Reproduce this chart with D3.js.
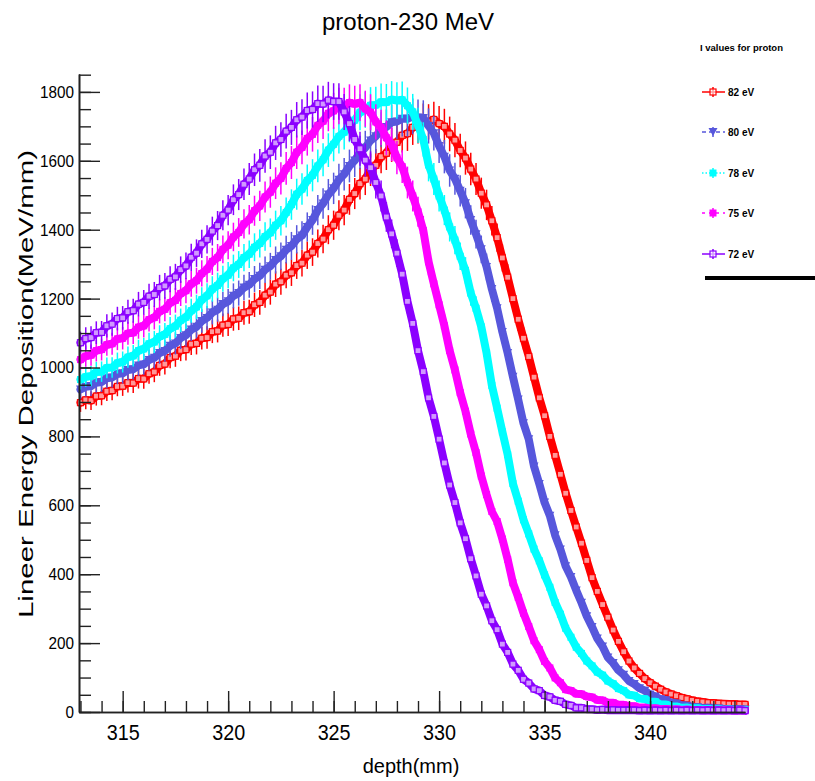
<!DOCTYPE html>
<html>
<head>
<meta charset="utf-8">
<script src="https://cdn.jsdelivr.net/npm/d3@7"></script>
<style>
  body { margin: 0; background: #ffffff; }
  svg { display: block; }
  text { font-family: "Liberation Sans", Arial, Helvetica, sans-serif; fill: #000; }
</style>
</head>
<body>
<svg id="chart" width="815" height="781"></svg>
<script>
// Depth bins (mm), 0.25 mm wide, centred from 313.00 to 344.50
const depth = d3.range(127).map(i => 313 + 0.25 * i);

// Energy deposition per bin (MeV/mm) for each mean excitation energy
const dose82 = [
  898, 906, 904, 917, 918, 931, 933, 945,
  946, 956, 955, 968, 967, 982, 987, 1006,
  1010, 1029, 1033, 1050, 1052, 1068, 1070, 1085,
  1087, 1104, 1106, 1123, 1125, 1141, 1143, 1159,
  1162, 1182, 1189, 1210, 1219, 1242, 1249, 1268,
  1275, 1296, 1303, 1326, 1335, 1360, 1373, 1400,
  1413, 1442, 1457, 1488, 1505, 1534, 1547, 1574,
  1587, 1612, 1622, 1646, 1654, 1674, 1679, 1697,
  1701, 1715, 1713, 1720, 1708, 1700, 1678, 1660,
  1630, 1608, 1576, 1547, 1506, 1472, 1426, 1377,
  1318, 1262, 1200, 1140, 1085, 1032, 972, 912,
  860, 800, 745, 690, 635, 585, 537, 490,
  440, 390, 350, 312, 275, 238, 205, 175,
  148, 128, 112, 97, 85, 75, 66, 58,
  52, 47, 42, 38, 34, 31, 29, 27,
  26, 25, 24, 23, 23, 22, 22
];
const dose80 = [
  936, 944, 946, 956, 958, 969, 971, 981,
  983, 993, 995, 1006, 1009, 1022, 1028, 1042,
  1048, 1063, 1070, 1086, 1094, 1110, 1118, 1135,
  1144, 1160, 1168, 1184, 1192, 1208, 1216, 1232,
  1240, 1257, 1266, 1284, 1294, 1312, 1323, 1342,
  1353, 1372, 1383, 1408, 1428, 1457, 1476, 1502,
  1520, 1545, 1561, 1585, 1601, 1624, 1638, 1659,
  1671, 1690, 1698, 1712, 1714, 1722, 1722, 1729,
  1726, 1724, 1701, 1680, 1643, 1612, 1572, 1548,
  1513, 1477, 1428, 1387, 1343, 1292, 1228, 1172,
  1103, 1042, 973, 907, 838, 792, 713, 662,
  608, 570, 513, 472, 423, 392, 353, 317,
  278, 247, 213, 190, 158, 142, 121, 108,
  90, 81, 69, 62, 51, 45, 37, 34,
  27, 25, 19, 18, 14, 14, 11, 12,
  10, 10, 9, 9, 8, 8, 7
];
const dose78 = [
  965, 973, 975, 987, 988, 999, 1000, 1013,
  1016, 1030, 1034, 1049, 1054, 1069, 1074, 1090,
  1096, 1113, 1120, 1137, 1146, 1165, 1176, 1197,
  1208, 1228, 1238, 1258, 1268, 1289, 1299, 1319,
  1329, 1349, 1360, 1380, 1391, 1413, 1426, 1450,
  1473, 1503, 1518, 1543, 1558, 1585, 1603, 1631,
  1648, 1671, 1683, 1705, 1718, 1741, 1748, 1761,
  1762, 1771, 1770, 1778, 1775, 1777, 1760, 1742,
  1703, 1662, 1588, 1547, 1498, 1457, 1408, 1370,
  1323, 1282, 1216, 1172, 1118, 1042, 948, 882,
  813, 747, 663, 612, 558, 517, 473, 439,
  398, 362, 318, 284, 243, 217, 188, 170,
  148, 134, 116, 107, 90, 82, 68, 62,
  50, 48, 39, 38, 30, 30, 22, 22,
  16, 16, 12, 13, 10, 11, 8, 9,
  7, 8, 6, 7, 6, 6, 6
];
const dose75 = [
  1023, 1033, 1036, 1049, 1052, 1066, 1069, 1083,
  1085, 1099, 1101, 1117, 1121, 1139, 1145, 1163,
  1169, 1188, 1195, 1215, 1223, 1243, 1252, 1273,
  1285, 1308, 1319, 1343, 1355, 1379, 1392, 1417,
  1429, 1455, 1469, 1495, 1509, 1535, 1549, 1578,
  1595, 1625, 1639, 1665, 1677, 1703, 1715, 1738,
  1745, 1759, 1759, 1769, 1765, 1769, 1751, 1741,
  1713, 1697, 1667, 1648, 1609, 1583, 1537, 1498,
  1452, 1398, 1307, 1243, 1182, 1121, 1049, 993,
  927, 873, 807, 753, 685, 631, 582, 553,
  502, 443, 375, 333, 287, 248, 207, 181,
  147, 128, 99, 85, 65, 62, 53, 52,
  45, 43, 35, 34, 27, 27, 21, 21,
  17, 17, 13, 13, 10, 11, 8, 9,
  7, 8, 6, 7, 6, 6, 5, 6,
  5, 5, 5, 5, 4, 5, 4
];
const dose72 = [
  1072, 1084, 1087, 1101, 1102, 1121, 1126, 1142,
  1144, 1162, 1165, 1184, 1189, 1207, 1212, 1232,
  1237, 1256, 1263, 1284, 1295, 1320, 1332, 1359,
  1372, 1396, 1412, 1442, 1457, 1487, 1502, 1532,
  1547, 1574, 1587, 1614, 1625, 1652, 1662, 1686,
  1697, 1719, 1727, 1746, 1749, 1766, 1765, 1776,
  1772, 1772, 1742, 1708, 1662, 1635, 1602, 1580,
  1537, 1498, 1437, 1388, 1332, 1271, 1192, 1128,
  1049, 988, 912, 858, 792, 723, 659, 608,
  549, 503, 445, 395, 342, 308, 265, 239,
  197, 173, 139, 121, 95, 84, 67, 62,
  48, 44, 34, 31, 22, 19, 12, 12,
  8, 8, 6, 7, 5, 6, 5, 5,
  5, 5, 4, 5, 4, 5, 4, 5,
  4, 5, 4, 5, 4, 5, 4, 5,
  4, 5, 4, 5, 4, 5, 4
];

const seriesLabels = ["82 eV", "80 eV", "78 eV", "75 eV", "72 eV"];
const seriesValues = [dose82, dose80, dose78, dose75, dose72];
const xTickValues = [315, 320, 325, 330, 335, 340];
const yTickValues = [0, 200, 400, 600, 800, 1000, 1200, 1400, 1600, 1800];
const relativeError = 0.03;   // statistical error per bin
const binHalfWidth = 0.125;   // mm

// Styles per series: colour, marker, line dash (legend)
const styles = [
  { color: "#ff0000", marker: "openSquare", dash: null },
  { color: "#5757dc", marker: "triangleDown", dash: "4,3" },
  { color: "#00ffff", marker: "square", dash: "1.5,2" },
  { color: "#ff00ff", marker: "square", dash: "3,4" },
  { color: "#8b00ff", marker: "openSquare", dash: null }
];

const svg = d3.select("#chart");

const x = d3.scaleLinear().domain([312.93, 344.5]).range([79, 745]);
const y = d3.scaleLinear().domain([0, 1852]).range([712, 74]);

function drawMarker(g, kind, color, cx, cy) {
  if (kind === "openSquare") {
    g.append("rect").attr("x", cx - 3).attr("y", cy - 3).attr("width", 6).attr("height", 6)
      .attr("fill", "#fff").attr("fill-opacity", 0.6)
      .attr("stroke", color).attr("stroke-width", 1.2);
  } else if (kind === "square") {
    g.append("rect").attr("x", cx - 3.5).attr("y", cy - 3.5).attr("width", 7).attr("height", 7)
      .attr("fill", color);
  } else if (kind === "triangleDown") {
    g.append("path").attr("d", `M${cx - 4.5},${cy - 4}L${cx + 4.5},${cy - 4}L${cx},${cy + 4}Z`)
      .attr("fill", color);
  }
}

// ---- data: connecting band, error bars, markers ----
const line = d3.line().x((v, i) => x(depth[i])).y(v => y(v));
const plot = svg.append("g").attr("class", "series");
seriesValues.forEach((vals, si) => {
  const st = styles[si];
  const g = plot.append("g");
  g.append("path").datum(vals).attr("d", line)
    .attr("fill", "none").attr("stroke", st.color).attr("stroke-width", 8)
    .attr("stroke-linejoin", "round").attr("stroke-linecap", "round");
  vals.forEach((v, i) => {
    const d = depth[i];
    const err = v * relativeError;
    g.append("line")
      .attr("x1", x(d - binHalfWidth)).attr("x2", x(d + binHalfWidth))
      .attr("y1", y(v)).attr("y2", y(v))
      .attr("stroke", st.color).attr("stroke-width", 1);
    g.append("line")
      .attr("x1", x(d)).attr("x2", x(d))
      .attr("y1", y(v - err)).attr("y2", y(v + err))
      .attr("stroke", st.color).attr("stroke-width", 1.5);
  });
  vals.forEach((v, i) => drawMarker(g, st.marker, st.color, x(depth[i]), y(v)));
});

// ---- axes ----
const axisColor = "#222";
const yMinor = svg.append("g").attr("transform", "translate(79,0)")
  .call(d3.axisLeft(y).tickValues(d3.range(0, 1851, 50)).tickSize(-12).tickSizeOuter(0).tickFormat(""));
const yMajor = svg.append("g").attr("transform", "translate(79,0)")
  .call(d3.axisLeft(y).tickValues(yTickValues).tickSize(-21).tickSizeOuter(0).tickPadding(5)
    .tickFormat(d3.format("d")));
const xMinor = svg.append("g").attr("transform", "translate(0,712)")
  .call(d3.axisBottom(x).tickValues(d3.range(313, 344.5, 1)).tickSize(-11).tickSizeOuter(0).tickFormat(""));
const xMajor = svg.append("g").attr("transform", "translate(0,712)")
  .call(d3.axisBottom(x).tickValues(xTickValues).tickSize(-21).tickSizeOuter(0).tickPadding(12)
    .tickFormat(d3.format("d")));

[yMinor, yMajor, xMinor, xMajor].forEach(a => {
  a.selectAll("path.domain").attr("stroke", axisColor).attr("stroke-width", 1.6);
  a.selectAll(".tick line").attr("stroke", axisColor).attr("stroke-width", 1.4);
});
yMajor.selectAll(".tick text")
  .attr("font-size", 17).attr("fill", "#111")
  .attr("font-family", "'Liberation Sans', Arial, sans-serif")
  .each(function (d) {
    const n = String(d).length;
    d3.select(this).attr("textLength", n * 8.5).attr("lengthAdjust", "spacingAndGlyphs");
  });
xMajor.selectAll(".tick text")
  .attr("font-size", 22).attr("fill", "#111")
  .attr("font-family", "'Liberation Sans', Arial, sans-serif")
  .attr("textLength", 33).attr("lengthAdjust", "spacingAndGlyphs");

// ---- titles ----
svg.append("text").attr("x", 408).attr("y", 30).attr("text-anchor", "middle")
  .attr("font-size", 24).text("proton-230 MeV");
svg.append("text").attr("x", 411).attr("y", 773).attr("text-anchor", "middle")
  .attr("font-size", 20).text("depth(mm)");
svg.append("text")
  .attr("transform", "translate(33,384) rotate(-90)")
  .attr("text-anchor", "middle").attr("font-size", 20)
  .attr("textLength", 468).attr("lengthAdjust", "spacingAndGlyphs")
  .text("Lineer Energy Deposition(MeV/mm)");

// ---- legend ----
const legend = svg.append("g");
legend.append("text").attr("x", 700).attr("y", 51).attr("font-size", 9.5).attr("font-weight", "bold")
  .attr("textLength", 83).attr("lengthAdjust", "spacingAndGlyphs")
  .text("I values for proton");
const legendY = [92, 132, 173, 213, 254];
seriesLabels.forEach((lab, i) => {
  const st = styles[i];
  const ly = legendY[i];
  legend.append("line").attr("x1", 702).attr("x2", 725).attr("y1", ly).attr("y2", ly)
    .attr("stroke", st.color).attr("stroke-width", 1.5).attr("stroke-dasharray", st.dash);
  legend.append("line").attr("x1", 713).attr("x2", 713).attr("y1", ly - 5).attr("y2", ly + 5)
    .attr("stroke", st.color).attr("stroke-width", 1.5);
  drawMarker(legend, st.marker, st.color, 713, ly);
  legend.append("text").attr("x", 728).attr("y", ly + 4).attr("font-size", 10).attr("font-weight", "bold")
    .text(lab);
});
legend.append("line").attr("x1", 705).attr("x2", 815).attr("y1", 278).attr("y2", 278)
  .attr("stroke", "#000").attr("stroke-width", 4);
</script>
</body>
</html>
